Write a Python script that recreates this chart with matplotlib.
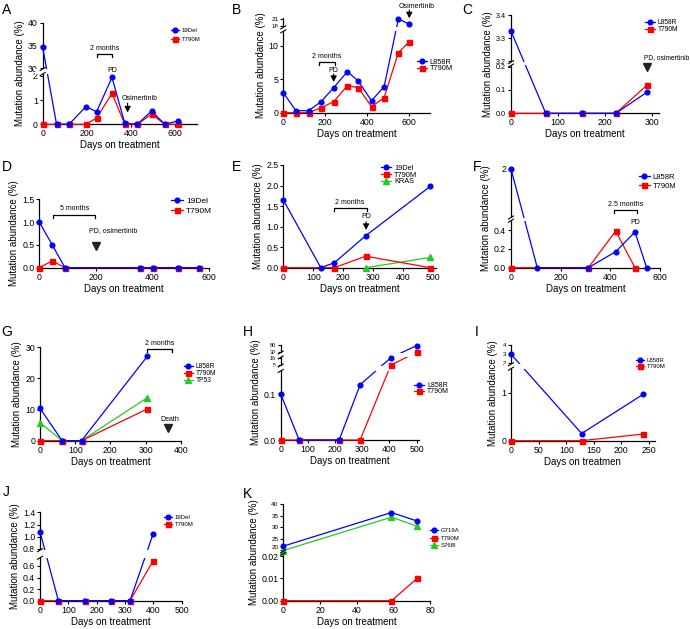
import numpy as np
import matplotlib
matplotlib.use('Agg')
import matplotlib.pyplot as plt
from matplotlib.lines import Line2D
from matplotlib.transforms import ScaledTranslation

plt.rcParams['font.family'] = ['Liberation Sans', 'DejaVu Sans']
plt.rcParams['axes.linewidth'] = 0.9

W, H = 690, 629
BLUE, RED, GREEN = '#0000ff', '#ff0000', '#22cc22'
MARK = {BLUE: ('o', 3.4), RED: ('s', 3.6), GREEN: ('^', 3.8)}

# ---- data: days on treatment / mutation abundance (%) ----
a_days = [0, 63, 120, 196, 245, 315, 373, 430, 495, 555, 615]
a_19del = [34.6, 0, 0, 0.73, 0.52, 1.94, 0.04, 0, 0.55, 0, 0.14]
a_t790m = [0, 0, 0, 0, 0.26, 1.28, 0, 0, 0.42, 0, 0]

b_days = [0, 60, 120, 180, 240, 305, 357, 420, 480, 548, 600]
b_l858r = [3.0, 0.3, 0.3, 1.65, 3.75, 6.15, 4.75, 1.8, 3.9, 21, 17.3]
b_t790m = [0, 0, 0, 0.75, 1.65, 4.05, 3.75, 0.9, 2.25, 9.0, 10.65]

c_days = [0, 74, 151, 223, 289]
c_l858r = [3.33, 0, 0, 0, 0.09]
c_t790m = [0, 0, 0, 0, 0.12]

d_days = [0, 46, 91, 356, 403, 491, 565]
d_19del = [1.0, 0.5, 0, 0, 0, 0, 0]
d_t790m = [0, 0.15, 0, 0, 0, 0, 0]

e_days = [0, 125, 170, 275, 490]
e_19del = [1.65, 0, 0.12, 0.78, 1.98]
e_t790m_days = [0, 170, 275, 490]
e_t790m = [0, 0, 0.28, 0]
e_kras_days = [275, 490]
e_kras = [0, 0.25]

f_days = [0, 106, 312, 422, 500, 547]
f_l858r = [2.0, 0, 0, 0.17, 0.38, 0]
f_t790m_days = [0, 312, 422, 500]
f_t790m = [0, 0, 0.39, 0]

g_days = [0, 63, 118, 305]
g_l858r = [10.4, 0, 0, 27.1]
g_t790m = [0, 0, 0, 10.2]
g_tp53 = [5.8, 0, 0, 13.8]

h_days = [0, 68, 215, 292, 405, 500]
h_l858r = [0.1, 0, 0, 0.12, 18, 76]
h_t790m = [0, 0, 0, 0, 5, 30]

i_days = [0, 128, 240]
i_l858r = [3.0, 0.15, 0.97]
i_t790m = [0, 0, 0.14]

j_days = [0, 65, 160, 250, 318, 400]
j_19del = [1.08, 0, 0, 0, 0, 1.05]
j_t790m = [0, 0, 0, 0, 0, 0.69]

k_days = [0, 59, 73]
k_g719a = [21.7, 36.3, 32.6]
k_t790m = [0, 0, 0.01]
k_s768i = [19.8, 34.3, 30.3]

fig = plt.figure(figsize=(W / 100, H / 100), dpi=100)


def panel(letter, lpos, x0, x1, xlim, xticks, ypx, yk, yticks, ytl, series, leg,
          breaks=(), small=(), ytfs=6.3, sfs=4.5, xlabel='Days on treatment'):
    ytop, ybot = ypx[-1], ypx[0]
    ax = fig.add_axes([x0 / W, 1 - ybot / H, (x1 - x0) / W, (ybot - ytop) / H])
    yk = np.array(yk, float)
    pk = (ybot - np.array(ypx, float)) / (ybot - ytop)
    if len(yk) > 2:
        # piecewise linear scale for the broken y axis
        ax.set_yscale('function', functions=(lambda y: np.interp(y, yk, pk),
                                             lambda p: np.interp(p, pk, yk)))
    ax.set_xlim(xlim)
    ax.set_ylim(yk[0], yk[-1])

    handles, names = [], []
    n = len(series)
    for i, (name, days, vals, col) in enumerate(series):
        m, ms = MARK[col]
        ax.plot(days, vals, color=col, lw=0.9, zorder=3 + (n - i) * 0.1, clip_on=False)
        ax.plot(days, vals, ls='none', marker=m, ms=ms, color=col,
                zorder=4 + (n - i) * 0.1, clip_on=False)
        handles.append(Line2D([], [], color=col, lw=0.9, marker=m, ms=ms))
        names.append(name)

    dx, dy = 2.5 / (x1 - x0), 1.5 / (ybot - ytop)
    for lo, hi in breaks:
        ax.axhspan(lo, hi, xmin=-0.05, xmax=1.0, color='white', lw=0, zorder=3.5, clip_on=False)
        for v in (lo, hi):
            p = np.interp(v, yk, pk)
            ax.plot([-dx, dx], [p - dy, p + dy], transform=ax.transAxes, color='k',
                    lw=0.8, clip_on=False, zorder=5)

    ax.set_xticks(xticks)
    ax.set_yticks(yticks)
    ax.set_yticklabels(ytl)
    ax.minorticks_off()
    ax.tick_params(direction='out', length=2, width=0.8, pad=1.5, labelsize=6.3)
    ax.tick_params(axis='y', labelsize=ytfs)
    for i in small:
        ax.get_yticklabels()[i].set_fontsize(sfs)
    for s in ('top', 'right'):
        ax.spines[s].set_visible(False)
    ax.set_xlabel(xlabel, fontsize=7, labelpad=1.5)
    ax.set_ylabel('Mutation abundance (%)', fontsize=7, labelpad=2)

    mx, my, pitch, fs = leg
    fsp = fs * 100 / 72
    ax.legend(handles, names, loc='upper left',
              bbox_to_anchor=((mx - 0.7 * fsp) / W, 1 - (my - 0.58 * fsp) / H),
              bbox_transform=fig.transFigure, frameon=False, fontsize=fs,
              handlelength=1.4, handletextpad=0.4, labelspacing=pitch / fsp - 1.15,
              borderpad=0, borderaxespad=0)
    fig.text(lpos[0] / W, 1 - lpos[1] / H, letter, fontsize=10, ha='left', va='top')
    return ax


def yf(ax, py):
    b = ax.get_position()
    top, bot = (1 - b.y1) * H, (1 - b.y0) * H
    return (bot - py) / (bot - top)


def bracket(ax, d1, d2, py, pt):
    y, t = yf(ax, py), yf(ax, pt)
    ax.plot([d1, d1, d2, d2], [t, y, y, t], transform=ax.get_xaxis_transform(),
            color='k', lw=0.9, clip_on=False, zorder=6)


def label(ax, d, py, s, fs=5):
    ax.text(d, yf(ax, py), s, transform=ax.get_xaxis_transform(), ha='center',
            va='center', fontsize=fs, zorder=6)


def arrow(ax, d, py0, py1):
    tr = ax.get_xaxis_transform()
    ax.annotate('', xy=(d, yf(ax, py1)), xytext=(d, yf(ax, py0)), xycoords=tr,
                textcoords=tr, annotation_clip=False,
                arrowprops=dict(arrowstyle='-|>,head_length=0.35,head_width=0.18',
                                color='k', lw=0.8, shrinkA=0, shrinkB=0))


def tri(ax, d, py):
    ax.plot([d], [yf(ax, py)], transform=ax.get_xaxis_transform(), marker='v', ms=6,
            color='#222222', clip_on=False, zorder=6)


# A
ax = panel('A', (2, 3), 42.7, 196.7, (0, 700), [0, 200, 400, 600],
           [124.3, 74, 69, 22.7], [0, 2.08, 29.85, 40],
           [0, 1, 2, 30, 35, 40], ['0', '1', '2', '30', '35', '40'],
           [('19Del', a_days, a_19del, BLUE), ('T790M', a_days, a_t790m, RED)],
           (175, 31, 11, 4.3), breaks=[(2.08, 29.85)])
bracket(ax, 245, 315, 54, 57)
label(ax, 280, 48.5, '2 months')
label(ax, 315, 70, 'PD')
label(ax, 442, 98.7, 'Osimertinib')
arrow(ax, 386, 103, 112.5)

# B
ax = panel('B', (232, 3), 283.3, 430.3, (0, 700), [0, 200, 400, 600],
           [112.7, 31.3, 27.4, 17.6], [0, 12.2, 15, 22],
           [0, 5, 10, 16, 21], ['0', '5', '10', '16', '21'],
           [('L858R', b_days, b_l858r, BLUE), ('T790M', b_days, b_t790m, RED)],
           (421.7, 62.7, 8, 5.3), breaks=[(12.2, 15)], small=(3, 4))
bracket(ax, 170, 245, 61.7, 64.5)
label(ax, 208, 56, '2 months')
label(ax, 240, 70, 'PD')
arrow(ax, 240, 74, 82)
label(ax, 635, 6.7, 'Osimertinib')
arrow(ax, 600, 10, 18.3)

# C
ax = panel('C', (462, 3), 511, 659, (0, 315), [0, 100, 200, 300],
           [113.3, 65.5, 62.2, 15], [0, 0.205, 3.195, 3.4],
           [0, 0.1, 0.2, 3.2, 3.3, 3.4], ['0.0', '0.1', '0.2', '3.2', '3.3', '3.4'],
           [('L858R', c_days, c_l858r, BLUE), ('T790M', c_days, c_t790m, RED)],
           (650, 23.3, 7.4, 4.8), breaks=[(0.205, 3.195)], ytfs=5.2)
label(ax, 331, 57.7, 'PD, osimertinib', fs=4.8)
tri(ax, 289, 66.7)

# D
ax = panel('D', (2, 160), 39.3, 208.5, (0, 600), [0, 200, 400, 600],
           [267.7, 199.3], [0, 1.5],
           [0, 0.5, 1.0, 1.5], ['0.0', '0.5', '1.0', '1.5'],
           [('19Del', d_days, d_19del, BLUE), ('T790M', d_days, d_t790m, RED)],
           (176.7, 202.3, 11, 6))
bracket(ax, 50, 198, 215, 218)
label(ax, 127, 208.3, '5 months')
label(ax, 262, 230.3, 'PD, osimertinib')
tri(ax, 201, 245.7)

# E
ax = panel('E', (232, 160), 283.3, 436.3, (0, 510), [0, 100, 200, 300, 400, 500],
           [267.7, 165], [0, 2.5],
           [0, 0.5, 1.0, 1.5, 2.0, 2.5], ['0.0', '0.5', '1.0', '1.5', '2.0', '2.5'],
           [('19Del', e_days, e_19del, BLUE), ('T790M', e_t790m_days, e_t790m, RED),
            ('KRAS', e_kras_days, e_kras, GREEN)],
           (386, 169, 8, 5.3))
bracket(ax, 170, 278, 208.3, 211)
label(ax, 222, 202.3, '2 months')
label(ax, 276, 216.7, 'PD')
arrow(ax, 276, 221.7, 230)

# F
ax = panel('F', (473, 160), 511, 659.8, (0, 600), [0, 200, 400, 600],
           [267.7, 220.7, 217.5, 169], [0, 0.5, 1.0, 2.0],
           [0, 0.2, 0.4, 2.0], ['0.0', '0.2', '0.4', '2'],
           [('L858R', f_days, f_l858r, BLUE), ('T790M', f_t790m_days, f_t790m, RED)],
           (644.3, 177.7, 10.6, 5.5), breaks=[(0.5, 1.0)])
bracket(ax, 416, 507, 210, 213)
label(ax, 462, 204.3, '2.5 months')
label(ax, 503, 222.7, 'PD')

# G
ax = panel('G', (1, 325), 40, 180.7, (0, 400), [0, 100, 200, 300, 400],
           [440.7, 347.3], [0, 30],
           [0, 10, 20, 30], ['0', '10', '20', '30'],
           [('L858R', g_days, g_l858r, BLUE), ('T790M', g_days, g_t790m, RED),
            ('TP53', g_days, g_tp53, GREEN)],
           (188.3, 367.3, 7.7, 4.8))
bracket(ax, 305, 375, 349.3, 352)
label(ax, 340, 343.3, '2 months')
label(ax, 370, 419.3, 'Death')
tri(ax, 363, 428.3)

# H
panel('H', (243, 325), 280.7, 419.4, (0, 510), [0, 100, 200, 300, 400, 500],
      [440, 371, 365.5, 357.4, 352.5, 345], [0, 0.15, 4.2, 18.5, 29, 80],
      [0, 0.1, 5, 18, 30, 80], ['0.0', '0.1', '5', '18', '30', '80'],
      [('L858R', h_days, h_l858r, BLUE), ('T790M', h_days, h_t790m, RED)],
      (419.3, 386, 7.3, 5), breaks=[(0.15, 4.2), (18.5, 29)], small=(2, 3, 4, 5), sfs=4)

# I
panel('I', (475, 325), 511, 654.5, (0, 260), [0, 50, 100, 150, 200, 250],
      [440.7, 368.7, 364.2, 345], [0, 1.5, 1.9, 4],
      [0, 1, 2, 3, 4], ['0', '1', '2', '3', '4'],
      [('L858R', i_days, i_l858r, BLUE), ('T790M', i_days, i_t790m, RED)],
      (640, 361.7, 7.6, 4.3), breaks=[(1.5, 1.9)], small=(2, 3, 4),
      xlabel='Days on treatmen')

# J
panel('J', (3, 485), 40, 181.5, (0, 500), [0, 100, 200, 300, 400, 500],
      [600.7, 557.8, 550.2, 512.3], [0, 0.74, 0.78, 1.4],
      [0, 0.2, 0.4, 0.6, 0.8, 1.0, 1.2, 1.4],
      ['0.0', '0.2', '0.4', '0.6', '0.8', '1.0', '1.2', '1.4'],
      [('19Del', j_days, j_19del, BLUE), ('T790M', j_days, j_t790m, RED)],
      (168.3, 518.3, 9, 4.3), breaks=[(0.74, 0.78)])

# K
ax = panel('K', (243, 487), 283.3, 430, (0, 80), [0, 20, 40, 60, 80],
           [600.7, 553.8, 551.2, 504], [0, 0.021, 19.5, 40],
           [0, 0.01, 0.02, 20, 25, 30, 35, 40],
           ['0.00', '0.01', '0.02', '20', '25', '30', '35', '40'],
           [('G719A', k_days, k_g719a, BLUE), ('T790M', k_days, k_t790m, RED),
            ('S768I', k_days, k_s768i, GREEN)],
           (434, 531.7, 9.2, 4.3), breaks=[(0.021, 19.5)], small=(3, 4, 5, 6, 7), sfs=4.6)
# nudge the "20" label up a little so it clears "0.02"
lbl = ax.get_yticklabels()[3]
lbl.set_transform(lbl.get_transform() + ScaledTranslation(0, 2.5 / 72, fig.dpi_scale_trans))

fig.savefig('out.png', dpi=100)
